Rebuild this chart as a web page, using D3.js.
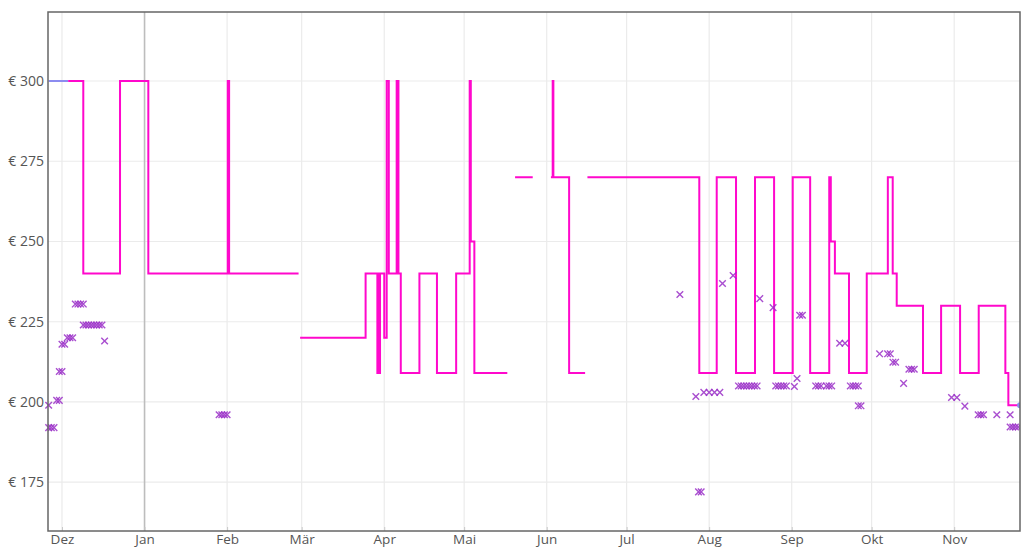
<!DOCTYPE html>
<html>
<head>
<meta charset="utf-8">
<script src="https://cdn.jsdelivr.net/npm/d3@7"></script>
<style>
	body { margin: 0; background: #fff; }
	text { font-family: "Open Sans", "Noto Sans", sans-serif; }
</style>
</head>
<body>
<div id="chart"></div>
<script>
// price steps (date, price), null = gap in the line
let preisSchritte = [
	["2022-12-03T08", 300], ["2022-12-09", 240], ["2022-12-22T19", 300], ["2023-01-02T10", 240],
	["2023-02-01T06", 300], ["2023-02-01T18", 240], ["2023-02-27T20", 240], ["2023-02-27T22", null],
	["2023-02-28T10", 220], ["2023-03-25", 240], ["2023-03-29T10", 209], ["2023-03-29T18", 240],
	["2023-03-30T02", 209], ["2023-03-30T10", 240], ["2023-04-01", 220], ["2023-04-01T22", 300],
	["2023-04-02T17", 240], ["2023-04-05T16", 300], ["2023-04-06T08", 240], ["2023-04-07T05", 209],
	["2023-04-14T05", 240], ["2023-04-20T19", 209], ["2023-04-28", 240], ["2023-05-03T02", 300],
	["2023-05-03T12", 250], ["2023-05-04T20", 209], ["2023-05-17T05", 209], ["2023-05-17T06", null],
	["2023-05-20T03", 270], ["2023-05-26T18", 270], ["2023-05-26T19", null],
	["2023-06-02T14", 270], ["2023-06-03T06", 300], ["2023-06-03T12", 270], ["2023-06-09T10", 209],
	["2023-06-15T10", 209], ["2023-06-15T11", null],
	["2023-06-16T07", 270], ["2023-07-28T07", 209], ["2023-08-03T20", 270], ["2023-08-11T02", 209],
	["2023-08-18T05", 270], ["2023-08-25T09", 209], ["2023-09-01T09", 270], ["2023-09-07T22", 209],
	["2023-09-15T02", 270], ["2023-09-15T16", 250], ["2023-09-17T05", 240], ["2023-09-22T12", 209],
	["2023-09-29T04", 240], ["2023-10-07T02", 270], ["2023-10-08T22", 240], ["2023-10-10T10", 230],
	["2023-10-20T07", 209], ["2023-10-27T02", 230], ["2023-11-03T05", 209], ["2023-11-10T05", 230],
	["2023-11-20T05", 209], ["2023-11-21T08", 199], ["2023-11-25T17", 199]
];

// second (blue) series, only visible at the very start
let blauSchritte = [["2022-11-26", 300], ["2022-12-03T08", 300]];
let blauPunkt = ["2023-11-25T17", 199];

// single offers (x markers)
let angebote = [
	["2022-11-26", 199], ["2022-11-26", 192], ["2022-11-27", 192], ["2022-11-28", 192],
	["2022-11-29", 200.5], ["2022-11-30", 200.5], ["2022-11-30", 209.5], ["2022-12-01", 209.5],
	["2022-12-01", 218], ["2022-12-02", 218], ["2022-12-03", 220], ["2022-12-04", 220], ["2022-12-05", 220],
	["2022-12-06", 230.5], ["2022-12-07", 230.5], ["2022-12-08", 230.5], ["2022-12-09", 230.5],
	["2022-12-09", 224], ["2022-12-10", 224], ["2022-12-11", 224], ["2022-12-12", 224], ["2022-12-13", 224],
	["2022-12-14", 224], ["2022-12-15", 224], ["2022-12-16", 224], ["2022-12-17", 219],
	["2023-01-29", 196], ["2023-01-30", 196], ["2023-01-31", 196], ["2023-02-01", 196],
	["2023-07-21", 233.5], ["2023-07-27", 201.7], ["2023-07-28", 172], ["2023-07-29", 172],
	["2023-07-30", 203], ["2023-08-01", 203], ["2023-08-03", 203], ["2023-08-05", 203],
	["2023-08-06", 236.9], ["2023-08-10", 239.4],
	["2023-08-12", 205], ["2023-08-13", 205], ["2023-08-14", 205], ["2023-08-15", 205],
	["2023-08-16", 205], ["2023-08-17", 205], ["2023-08-18", 205], ["2023-08-19", 205],
	["2023-08-20", 232.2], ["2023-08-25", 229.4],
	["2023-08-26", 205], ["2023-08-27", 205], ["2023-08-28", 205], ["2023-08-29", 205], ["2023-08-30", 205],
	["2023-09-02", 204.8], ["2023-09-03", 207.3], ["2023-09-04", 227], ["2023-09-05", 227],
	["2023-09-10", 205], ["2023-09-11", 205], ["2023-09-12", 205], ["2023-09-14", 205],
	["2023-09-15", 205], ["2023-09-16", 205], ["2023-09-19", 218.3], ["2023-09-21", 218.3],
	["2023-09-23", 205], ["2023-09-24", 205], ["2023-09-25", 205], ["2023-09-26", 205],
	["2023-09-26", 198.8], ["2023-09-27", 198.8],
	["2023-10-04", 215], ["2023-10-07", 215], ["2023-10-08", 215], ["2023-10-09", 212.4], ["2023-10-10", 212.4],
	["2023-10-13", 205.8], ["2023-10-15", 210.2], ["2023-10-16", 210.2], ["2023-10-17", 210.2],
	["2023-10-31", 201.4], ["2023-11-02", 201.4], ["2023-11-05", 198.7],
	["2023-11-10", 196], ["2023-11-11", 196], ["2023-11-12", 196], ["2023-11-17", 196], ["2023-11-22", 196],
	["2023-11-22", 192.2], ["2023-11-23", 192.2], ["2023-11-24", 192.2], ["2023-11-25", 192.2]
];

let yTicks = [175, 200, 225, 250, 275, 300];
let monatsNamen = ["Jan", "Feb", "Mär", "Apr", "Mai", "Jun", "Jul", "Aug", "Sep", "Okt", "Nov", "Dez"];
let zeitraum = ["2022-11-25T18", "2023-11-25T17"];
let preisBereich = [159.8, 321.5];

let parseTag = d3.timeParse("%Y-%m-%d"),
	parseStunde = d3.timeParse("%Y-%m-%dT%H");
function parse(s) { return s.length > 10 ? parseStunde(s) : parseTag(s); }

let margin = { top: 12, right: 4, bottom: 20, left: 48 };
let width = 1024 - margin.left - margin.right;
let height = 551 - margin.top - margin.bottom;

let svg = d3.select("#chart")
	.append("svg")
	.attr("width", 1024)
	.attr("height", 551)
	.style("display", "block");

let g = svg.append("g")
	.attr("transform", "translate(" + margin.left + "," + margin.top + ")");

let xScale = d3.scaleTime().domain(zeitraum.map(parse)).range([0, width]);
let yScale = d3.scaleLinear().domain(preisBereich).range([height, 0]);

let monate = d3.timeMonth.range(xScale.domain()[0], xScale.domain()[1]);

// grid
g.selectAll(".hgrid")
	.data(yTicks)
	.enter().append("line")
	.attr("x1", 0).attr("x2", width)
	.attr("y1", d => yScale(d)).attr("y2", d => yScale(d))
	.attr("stroke", "#ebebeb")
	.attr("stroke-width", 1.2);

g.selectAll(".vgrid")
	.data(monate)
	.enter().append("line")
	.attr("x1", d => xScale(d)).attr("x2", d => xScale(d))
	.attr("y1", 0).attr("y2", height)
	.attr("stroke", d => d.getMonth() === 0 ? "#bdbdbd" : "#ebebeb")
	.attr("stroke-width", d => d.getMonth() === 0 ? 1.6 : 1.2);

// x axis
let xAxis = g.append("g")
	.attr("transform", "translate(0," + height + ")")
	.call(d3.axisBottom(xScale)
		.tickValues(monate)
		.tickSize(-4)
		.tickPadding(3)
		.tickFormat(d => monatsNamen[d.getMonth()]));
xAxis.select(".domain").remove();
xAxis.selectAll("line").attr("stroke", "#c8c8c8");
xAxis.selectAll("text").attr("fill", "#555").style("font-size", "13.5px");

// y axis
let yAxis = g.append("g")
	.call(d3.axisLeft(yScale)
		.tickValues(yTicks)
		.tickSize(0)
		.tickPadding(4)
		.tickFormat(d => "€ " + d));
yAxis.select(".domain").remove();
yAxis.selectAll("text").attr("fill", "#555").style("font-size", "14px");

let clip = g.append("clipPath").attr("id", "clip")
	.append("rect").attr("x", -4).attr("width", width + 4).attr("height", height);

let plot = g.append("g").attr("clip-path", "url(#clip)");

let line = d3.line()
	.defined(d => d[1] !== null)
	.x(d => xScale(parse(d[0])))
	.y(d => yScale(d[1]))
	.curve(d3.curveStepAfter);

plot.append("path")
	.datum(blauSchritte)
	.attr("d", line)
	.attr("fill", "none")
	.attr("stroke", "#8c8cf0")
	.attr("stroke-width", 2);

plot.append("path")
	.datum(preisSchritte)
	.attr("d", line)
	.attr("fill", "none")
	.attr("stroke", "#ff08cc")
	.attr("stroke-width", 2);

// offers as x markers
plot.selectAll(".angebot")
	.data(angebote)
	.enter().append("path")
	.attr("class", "angebot")
	.attr("transform", d => "translate(" + xScale(parse(d[0])) + "," + yScale(d[1]) + ")")
	.attr("d", "M-3.3,-3.3L3.3,3.3M3.3,-3.3L-3.3,3.3")
	.attr("stroke", "#9b30c8")
	.attr("stroke-width", 1.4)
	.attr("opacity", 0.85);

plot.append("circle")
	.attr("cx", xScale(parse(blauPunkt[0])))
	.attr("cy", yScale(blauPunkt[1]))
	.attr("r", 3)
	.attr("fill", "#8c8cf0");

// frame
g.append("rect")
	.attr("width", width)
	.attr("height", height)
	.attr("fill", "none")
	.attr("stroke", "#666")
	.attr("stroke-width", 1.5);
</script>
</body>
</html>
